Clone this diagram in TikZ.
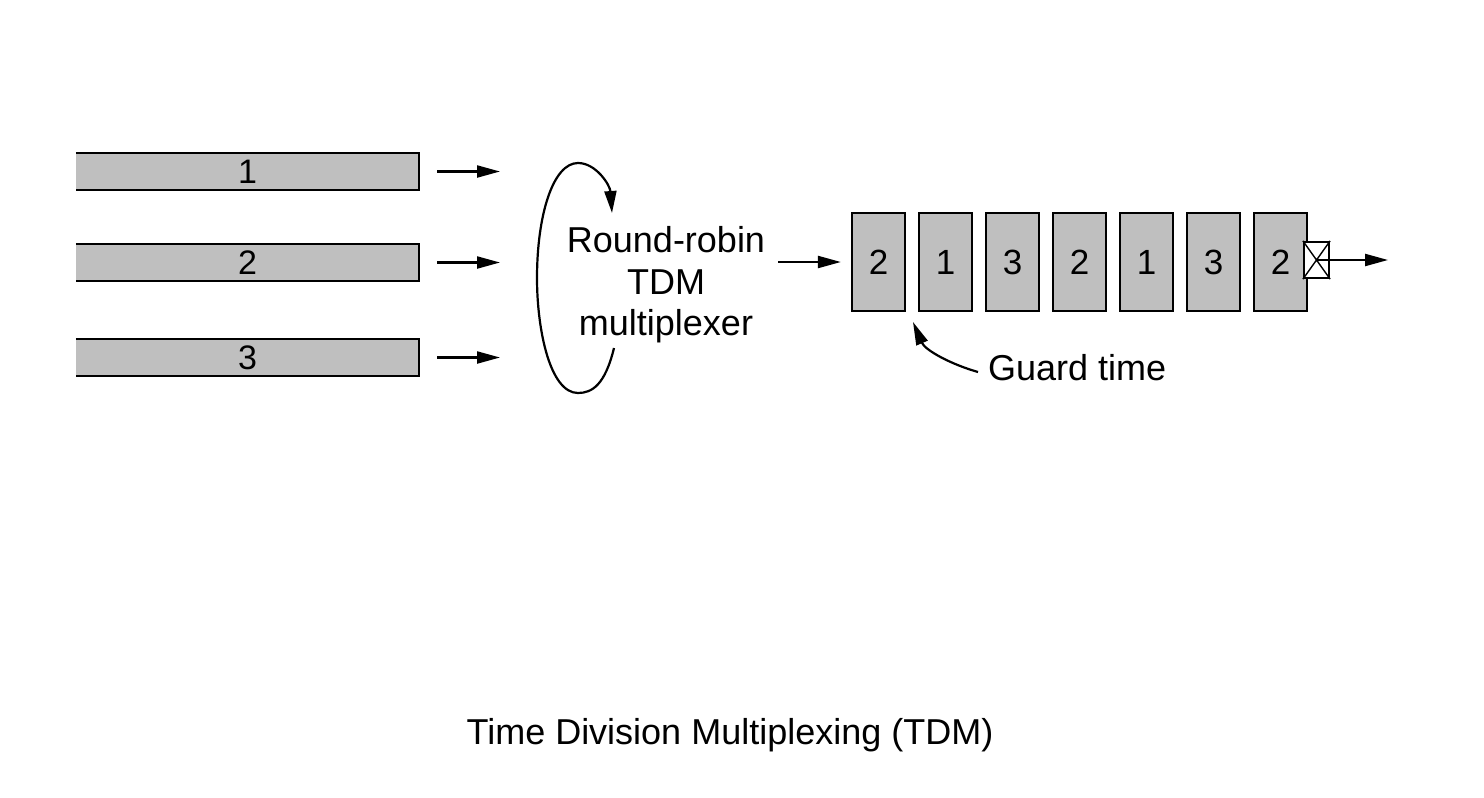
\documentclass[tikz,border=0pt]{standalone}
\usepackage{fontspec}
\setmainfont{Liberation Sans}
\usetikzlibrary{arrows.meta}
\tikzset{
  conn/.style={line width=2.2pt, -{Triangle[length=23pt,width=12pt]}},
  bigtext/.style={font=\fontsize{36}{41.5}\selectfont, inner sep=0pt},
  bar/.style={fill=black!25, minimum width=343pt, minimum height=37pt,
    inner sep=0pt, font=\fontsize{34}{36}\selectfont},
  slot/.style={draw, line width=2.2pt, fill=black!25, minimum width=53pt,
    minimum height=98pt, inner sep=0pt, font=\fontsize{35}{36}\selectfont},
  xbox/.style={draw, line width=2.2pt, fill=white, minimum width=25pt,
    minimum height=36pt, inner sep=0pt},
}
\begin{document}
\begin{tikzpicture}[x=1pt,y=-1pt]
  \useasboundingbox (0,0) rectangle (1484,798);

  % input channels
  \foreach \n/\y in {1/171.5, 2/262.5, 3/357.5} {
    \node[bar] (bar\n) at (247.5,\y) {\n};
    \draw[line width=2.2pt] (bar\n.north west) -- (bar\n.north east)
      -- (bar\n.south east) -- (bar\n.south west);
    \coordinate (in\n) at (500,\y);
    \draw[conn] ([xshift=18pt]bar\n.east) -- (in\n);
  }

  % multiplexer
  \node[bigtext, align=center] (mux) at (666,285) {Round-robin\\TDM\\multiplexer};
  \draw[line width=2.2pt, -{Triangle[length=22pt,width=12pt]}]
    (614,348) .. controls (605,385) and (592,393) .. (578,393)
    .. controls (550,393) and (537,330) .. (537,278)
    .. controls (537,215) and (553,163) .. (578,163)
    .. controls (596,163) and (610,185) .. (612,213);

  % output slots
  \foreach \lab [count=\i from 0] in {2,1,3,2,1,3,2} {
    \node[slot] (slot\i) at (878.5+67*\i, 262) {\lab};
  }
  \coordinate (muxout) at (778,262);
  \draw[conn] (muxout) -- ([xshift=-10pt]slot0.west);

  \node[xbox] (gap) at (1316.5,260) {};
  \draw[line width=1.4pt] (gap.north west) -- (gap.south east)
    (gap.north east) -- (gap.south west);
  \coordinate (out) at (1388,260);
  \draw[conn] (gap.center) -- (out);

  % guard time
  \node[bigtext, anchor=west] (guard) at (988,368) {Guard time};
  \coordinate (gt) at (913,322);
  \draw[conn] ([xshift=-10pt,yshift=-4pt]guard.west)
    .. controls (950,364) and (925,350) .. (gt);

  \node[bigtext] (caption) at (730,735) {Time Division Multiplexing (TDM)};
\end{tikzpicture}
\end{document}
